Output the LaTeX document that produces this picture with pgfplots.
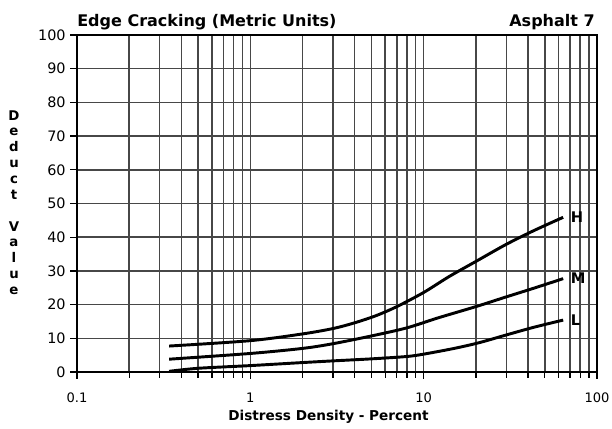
\documentclass[border=0pt]{standalone}
\usepackage{fontspec}
\setmainfont{DejaVu Sans}
\usepackage{pgfplots}
\pgfplotsset{compat=1.18}

\pgfplotstableread{
x     y
0.34  7.7
1     9.3
2     11.3
3     12.9
4     14.6
5.3   16.7
7     19.4
10    23.6
14    28.3
20    32.8
30    37.9
43.4  42.0
63.8  45.9
}\curveH
\pgfplotstableread{
x     y
0.34  3.8
1     5.5
2     7.0
3     8.4
5     10.7
8     13.1
12    16.0
20    19.4
30    22.3
43.4  24.9
63.8  27.7
}\curveM
\pgfplotstableread{
x     y
0.34  0.2
0.5   1.1
1     1.9
2     2.8
3     3.3
5     3.9
8     4.6
10    5.3
15    7.0
20.9  8.7
30    11.0
43.4  13.3
63.8  15.4
}\curveL

\begin{document}
\begin{tikzpicture}
\begin{axis}[
  at={(0,0)}, anchor=south west,
  scale only axis, width=390pt, height=252.75pt,
  xmode=log, xmin=0.1, xmax=100, ymin=0, ymax=100,
  xtick={0.1,1,10,100}, xticklabels={0.1,1,10,100},
  ytick={0,10,...,100},
  xmajorgrids, xminorgrids, ymajorgrids,
  major grid style={black!72, line width=1.1pt},
  minor grid style={black!72, line width=1.1pt},
  axis line style={black, line width=1.2pt},
  tick style={black, line width=1pt},
  tick align=outside, tick pos=left,
  major tick length=5pt, minor tick length=4.5pt,
  /pgf/number format/assume math mode=true,
  xticklabel style={font=\fontsize{9.8}{11}\selectfont, anchor=base, yshift=-17.5pt},
  yticklabel style={font=\fontsize{10.8}{12}\selectfont, anchor=east},
  clip=false,
]
\addplot[black, line width=2.2pt, smooth] table {\curveH};
\addplot[black, line width=2.2pt, smooth] table {\curveM};
\addplot[black, line width=2.2pt, smooth] table {\curveL};

\node[anchor=west, inner sep=0, xshift=5.5pt, font=\bfseries\fontsize{11}{12}\selectfont] at (axis cs:63.8,45.9) {H};
\node[anchor=west, inner sep=0, xshift=5.5pt, font=\bfseries\fontsize{11}{12}\selectfont] at (axis cs:63.8,27.7) {M};
\node[anchor=west, inner sep=0, xshift=5.5pt, font=\bfseries\fontsize{11}{12}\selectfont] at (axis cs:63.8,15.4) {L};

\node[anchor=base west, inner sep=0, yshift=6pt, font=\bfseries\fontsize{12}{14}\selectfont] at (rel axis cs:0,1) {Edge Cracking (Metric Units)};
\node[anchor=base east, inner sep=0, yshift=6pt, xshift=-1.5pt, font=\bfseries\fontsize{12}{14}\selectfont] at (rel axis cs:1,1) {Asphalt 7};
\node[anchor=base, inner sep=0, yshift=-36.5pt, font=\bfseries\fontsize{10.2}{12}\selectfont] at (rel axis cs:0.4837,0) {Distress Density - Percent};
\node[align=center, inner sep=0, xshift=-47.25pt, font=\bfseries\fontsize{10}{11.85}\selectfont] at (rel axis cs:0,0.503) {D\\e\\d\\u\\c\\t\\[12.2pt]V\\a\\l\\u\\e};
\end{axis}
\pgfresetboundingbox
\path[use as bounding box] (-57.75pt,-42.75pt) rectangle (401.25pt,279pt);
\end{tikzpicture}
\end{document}
